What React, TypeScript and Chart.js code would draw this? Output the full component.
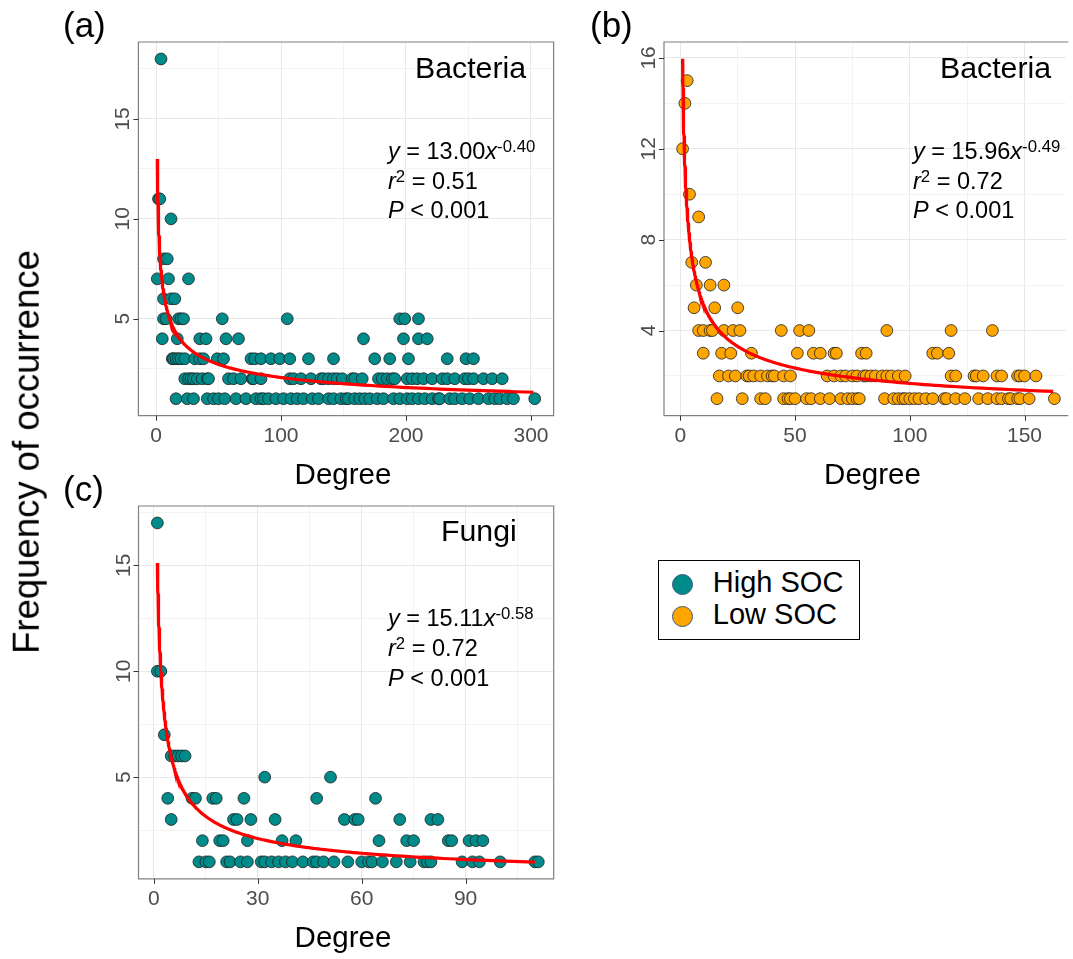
import React, { useEffect, useRef } from "react";
import { Chart, registerables } from "chart.js";

Chart.register(...registerables);

// ---------- DATA ----------
// Panel (a) Bacteria, High SOC
const A_FREQ = [18, 11, 10, 8, 7, 6, 5, 4, 3, 2, 1];
const A_DEGREE = [
  [4],
  [2, 3],
  [12],
  [6, 9],
  [1, 10, 26],
  [6, 12, 15],
  [6, 8, 18, 20, 22, 53, 105, 195, 199, 210],
  [5, 17, 35, 40, 56, 66, 166, 198, 210, 217],
  [13, 14, 16, 18, 20, 23, 31, 35, 38, 49, 54, 76, 79, 84, 92, 99, 107, 122, 142, 175, 187, 202, 233, 248, 254],
  [23, 26, 28, 30, 33, 37, 41, 42, 58, 62, 68, 77, 78, 84, 107, 110, 116, 124, 132, 134, 138, 142, 145, 149, 157, 159, 165, 178, 181, 185, 189, 191, 201, 205, 209, 214, 221, 229, 233, 239, 247, 250, 254, 262, 269, 277],
  [16, 25, 30, 41, 46, 50, 55, 64, 72, 80, 84, 86, 90, 96, 102, 108, 113, 118, 125, 130, 138, 142, 148, 152, 154, 159, 163, 167, 171, 177, 182, 190, 195, 201, 205, 210, 215, 221, 226, 227, 235, 239, 245, 251, 258, 266, 271, 275, 281, 286, 303],
];
const A_FIT = [13.0, -0.4];
const A_FIT_RANGE = [1, 302];

// Panel (b) Bacteria, Low SOC
const B_FREQ = [15, 14, 12, 10, 9, 7, 6, 5, 4, 3, 2, 1];
const B_DEGREE = [
  [3],
  [2],
  [1],
  [4],
  [8],
  [5, 11],
  [7, 13, 19],
  [6, 15, 25],
  [8, 10, 13, 14, 19, 23, 26, 44, 52, 56, 90, 118, 136],
  [10, 18, 22, 31, 51, 58, 61, 67, 68, 79, 81, 110, 112, 117],
  [17, 21, 24, 29, 30, 32, 35, 38, 40, 41, 45, 48, 64, 67, 70, 72, 75, 77, 80, 81, 83, 85, 88, 90, 92, 95, 98, 118, 120, 128, 129, 132, 138, 140, 147, 148, 150, 155],
  [16, 27, 35, 37, 45, 47, 48, 50, 55, 57, 61, 65, 70, 73, 75, 77, 78, 89, 93, 95, 97, 98, 100, 102, 104, 107, 110, 115, 116, 120, 124, 130, 134, 138, 140, 143, 144, 147, 148, 152, 163],
];
const B_FIT = [15.96, -0.49];
const B_FIT_RANGE = [1, 162.5];

// Panel (c) Fungi, High SOC
const C_FREQ = [17, 10, 7, 6, 5, 4, 3, 2, 1];
const C_DEGREE = [
  [1],
  [1, 2],
  [3],
  [5, 6, 7, 8, 9],
  [32, 51],
  [4, 11, 12, 17, 18, 26, 47, 64],
  [5, 23, 24, 28, 35, 55, 58, 59, 71, 80, 82],
  [14, 19, 20, 27, 37, 41, 65, 73, 75, 85, 86, 91, 93, 95],
  [13, 15, 16, 21, 22, 25, 27, 31, 32, 34, 36, 38, 40, 43, 46, 47, 49, 52, 56, 60, 62, 63, 66, 70, 74, 78, 79, 80, 89, 92, 94, 100, 110, 111],
];
const C_FIT = [15.11, -0.58];
const C_FIT_RANGE = [1, 110];

// Tick values
const A_X_TICKS = [0, 100, 200, 300];
const A_X_MINOR = [50, 150, 250];
const A_Y_TICKS = [5, 10, 15];
const A_Y_MINOR = [2.5, 7.5, 12.5, 17.5];
const B_X_TICKS = [0, 50, 100, 150];
const B_X_MINOR = [25, 75, 125];
const B_Y_TICKS = [4, 8, 12, 16];
const B_Y_MINOR = [2, 6, 10, 14];
const C_X_TICKS = [0, 30, 60, 90];
const C_X_MINOR = [15, 45, 75, 105];
const C_Y_TICKS = [5, 10, 15];
const C_Y_MINOR = [2.5, 7.5, 12.5, 17.5];

// ---------- STYLE ----------
const TEAL = "#008b8b";
const ORANGE = "#ffa500";
const FONT = '"Liberation Sans", Arial, Helvetica, sans-serif';
const W = 1073;
const H = 959;

function toPoints(levels: number[], degrees: number[][]) {
  const pts: { x: number; y: number }[] = [];
  levels.forEach((f, i) => degrees[i].forEach((d) => pts.push({ x: d, y: f })));
  return pts;
}

function fitCurve(coef: number[], range: number[]) {
  const pts: { x: number; y: number }[] = [];
  const n = 240;
  for (let i = 0; i <= n; i++) {
    const x = range[0] * Math.pow(range[1] / range[0], i / n);
    pts.push({ x, y: coef[0] * Math.pow(x, coef[1]) });
  }
  return pts;
}

const panelDeco = {
  id: "panelDeco",
  afterDraw(chart: any, _args: any, opts: any) {
    const { ctx, chartArea: a, scales } = chart;
    const xs = scales.x;
    const ys = scales.y;
    ctx.save();
    // panel border
    ctx.strokeStyle = "#808080";
    ctx.lineWidth = 1.2;
    ctx.beginPath();
    if (opts.rightBorder) {
      ctx.rect(a.left, a.top, a.right - a.left, a.bottom - a.top);
    } else {
      ctx.moveTo(a.right + 2, a.top);
      ctx.lineTo(a.left, a.top);
      ctx.lineTo(a.left, a.bottom);
      ctx.lineTo(a.right + 2, a.bottom);
    }
    ctx.stroke();
    // tick marks
    ctx.strokeStyle = "#333333";
    ctx.lineWidth = 1;
    ctx.beginPath();
    for (const v of opts.xTicks) {
      const px = Math.round(xs.getPixelForValue(v)) + 0.5;
      ctx.moveTo(px, a.bottom);
      ctx.lineTo(px, a.bottom + 5);
    }
    for (const v of opts.yTicks) {
      const py = Math.round(ys.getPixelForValue(v)) + 0.5;
      ctx.moveTo(a.left - 5, py);
      ctx.lineTo(a.left, py);
    }
    ctx.stroke();
    // tick labels
    ctx.fillStyle = "#4d4d4d";
    ctx.font = `21px ${FONT}`;
    ctx.textAlign = "center";
    ctx.textBaseline = "alphabetic";
    for (const v of opts.xTicks) {
      ctx.fillText(String(v), xs.getPixelForValue(v), a.bottom + 26);
    }
    for (const v of opts.yTicks) {
      ctx.save();
      ctx.translate(a.left - 9, ys.getPixelForValue(v));
      ctx.rotate(-Math.PI / 2);
      ctx.fillText(String(v), 0, 0);
      ctx.restore();
    }
    ctx.restore();
  },
};

function makeChart(
  canvas: HTMLCanvasElement,
  pts: { x: number; y: number }[],
  curve: { x: number; y: number }[],
  color: string,
  area: { l: number; t: number; r: number; b: number },
  xr: number[],
  yr: number[],
  xMajor: number[],
  xMinor: number[],
  yMajor: number[],
  yMinor: number[],
  rightBorder: boolean
) {
  const gridScale = (major: number[], minor: number[], range: number[]) => ({
    type: "linear" as const,
    min: range[0],
    max: range[1],
    afterBuildTicks: (scale: any) => {
      scale.ticks = [...major, ...minor]
        .filter((v) => v >= range[0] && v <= range[1])
        .sort((p, q) => p - q)
        .map((v) => ({ value: v }));
    },
    ticks: { display: false },
    border: { display: false },
    grid: {
      drawTicks: false,
      color: (c: any) => (c.tick && major.includes(c.tick.value) ? "#e8e8e8" : "#f3f3f3"),
      lineWidth: 1,
    },
  });
  return new Chart(canvas, {
    type: "scatter",
    data: {
      datasets: [
        {
          type: "line",
          data: curve,
          borderColor: "#ff0000",
          borderWidth: 3.2,
          pointRadius: 0,
          fill: false,
          tension: 0,
          order: 0,
        } as any,
        {
          data: pts,
          backgroundColor: color,
          borderColor: "#1e1e1e",
          borderWidth: 0.8,
          pointRadius: 5.9,
          pointHoverRadius: 5.9,
          order: 1,
        },
      ],
    },
    options: {
      animation: false,
      responsive: false,
      devicePixelRatio: 1,
      events: [],
      layout: {
        padding: { left: area.l, top: area.t, right: W - area.r, bottom: H - area.b },
      },
      scales: {
        x: gridScale(xMajor, xMinor, xr),
        y: gridScale(yMajor, yMinor, yr),
      },
      plugins: {
        legend: { display: false },
        tooltip: { enabled: false },
        panelDeco: { xTicks: xMajor, yTicks: yMajor, rightBorder },
      } as any,
    },
    plugins: [panelDeco],
  });
}

function Txt(props: { left: number; baseline: number; size: number; children: any; center?: boolean }) {
  const { left, baseline, size, children, center } = props;
  return (
    <div
      style={{
        position: "absolute",
        left,
        top: baseline - 0.8465 * size,
        fontSize: size,
        lineHeight: `${size}px`,
        fontFamily: FONT,
        color: "#000",
        whiteSpace: "nowrap",
        transform: center ? "translateX(-50%)" : undefined,
      }}
    >
      {children}
    </div>
  );
}

const sup = (s: string) => (
  <span style={{ fontSize: 16.8, position: "relative", top: -7 }}>{s}</span>
);

function Equation(props: { left: number; baseline: number; a: string; b: string; r2: string }) {
  const { left, baseline, a, b, r2 } = props;
  return (
    <>
      <Txt left={left} baseline={baseline} size={23.5}>
        <i>y</i> = {a}
        <i>x</i>
        {sup(b)}
      </Txt>
      <Txt left={left} baseline={baseline + 29.6} size={23.5}>
        <i>r</i>
        {sup("2")} = {r2}
      </Txt>
      <Txt left={left} baseline={baseline + 59.2} size={23.5}>
        <i>P</i> &lt; 0.001
      </Txt>
    </>
  );
}

export default function App() {
  const refA = useRef<HTMLCanvasElement>(null);
  const refB = useRef<HTMLCanvasElement>(null);
  const refC = useRef<HTMLCanvasElement>(null);

  useEffect(() => {
    document.body.style.margin = "0";
    document.body.style.overflow = "hidden";
    const charts: Chart[] = [];
    charts.push(
      makeChart(
        refA.current!,
        toPoints(A_FREQ, A_DEGREE),
        fitCurve(A_FIT, A_FIT_RANGE),
        TEAL,
        { l: 138.4, t: 42, r: 553.6, b: 415.7 },
        [-14.1, 318.1],
        [0.15, 18.85],
        A_X_TICKS,
        A_X_MINOR,
        A_Y_TICKS,
        A_Y_MINOR,
        true
      )
    );
    charts.push(
      makeChart(
        refB.current!,
        toPoints(B_FREQ, B_DEGREE),
        fitCurve(B_FIT, B_FIT_RANGE),
        ORANGE,
        { l: 664, t: 42, r: 1073, b: 415.7 },
        [-7.1, 168.2],
        [0.25, 16.7],
        B_X_TICKS,
        B_X_MINOR,
        B_Y_TICKS,
        B_Y_MINOR,
        false
      )
    );
    charts.push(
      makeChart(
        refC.current!,
        toPoints(C_FREQ, C_DEGREE),
        fitCurve(C_FIT, C_FIT_RANGE),
        TEAL,
        { l: 138.5, t: 506, r: 553.7, b: 878.8 },
        [-4.45, 115.45],
        [0.2, 17.8],
        C_X_TICKS,
        C_X_MINOR,
        C_Y_TICKS,
        C_Y_MINOR,
        true
      )
    );
    return () => charts.forEach((c) => c.destroy());
  }, []);

  const canvasStyle: React.CSSProperties = { position: "absolute", left: 0, top: 0 };

  return (
    <div style={{ position: "relative", width: W, height: H, overflow: "hidden", background: "#fff" }}>
      <canvas ref={refA} width={W} height={H} style={canvasStyle} />
      <canvas ref={refB} width={W} height={H} style={canvasStyle} />
      <canvas ref={refC} width={W} height={H} style={canvasStyle} />

      <Txt left={63} baseline={36.5} size={35}>(a)</Txt>
      <Txt left={590} baseline={36.5} size={35}>(b)</Txt>
      <Txt left={63} baseline={500.5} size={35}>(c)</Txt>

      <Txt left={415} baseline={78.3} size={30.3}>Bacteria</Txt>
      <Txt left={940} baseline={78.3} size={30.3}>Bacteria</Txt>
      <Txt left={441} baseline={541.7} size={30.3}>Fungi</Txt>

      <Equation left={388} baseline={160} a="13.00" b="-0.40" r2="0.51" />
      <Equation left={913} baseline={160} a="15.96" b="-0.49" r2="0.72" />
      <Equation left={388} baseline={627.3} a="15.11" b="-0.58" r2="0.72" />

      <Txt left={343} baseline={483.7} size={29.5} center>Degree</Txt>
      <Txt left={872.5} baseline={483.7} size={29.5} center>Degree</Txt>
      <Txt left={343} baseline={946.7} size={29.5} center>Degree</Txt>

      <div
        style={{
          position: "absolute",
          left: 27,
          top: 451.5,
          transform: "translate(-50%, -50%) rotate(-90deg)",
          fontSize: 36.5,
          lineHeight: "36.5px",
          fontFamily: FONT,
          whiteSpace: "nowrap",
          color: "#000",
        }}
      >
        Frequency of occurrence
      </div>

      <div
        style={{
          position: "absolute",
          left: 658,
          top: 560,
          width: 200,
          height: 78,
          border: "1.5px solid #000",
          background: "#fff",
        }}
      >
        {[
          { label: "High SOC", color: TEAL, cy: 25 },
          { label: "Low SOC", color: ORANGE, cy: 56.7 },
        ].map((it) => (
          <React.Fragment key={it.label}>
            <div
              style={{
                position: "absolute",
                left: 25.3 - 1.5 - 10.5,
                top: it.cy - 1.5 - 10.5,
                width: 21,
                height: 21,
                boxSizing: "border-box",
                borderRadius: "50%",
                background: it.color,
                border: "1.5px solid #3c5878",
              }}
            />
            <div
              style={{
                position: "absolute",
                left: 55.3 - 1.5,
                top: it.cy + 8.3 - 1.5 - 0.8465 * 29,
                fontSize: 29,
                lineHeight: "29px",
                fontFamily: FONT,
                whiteSpace: "nowrap",
                color: "#000",
              }}
            >
              {it.label}
            </div>
          </React.Fragment>
        ))}
      </div>
    </div>
  );
}
